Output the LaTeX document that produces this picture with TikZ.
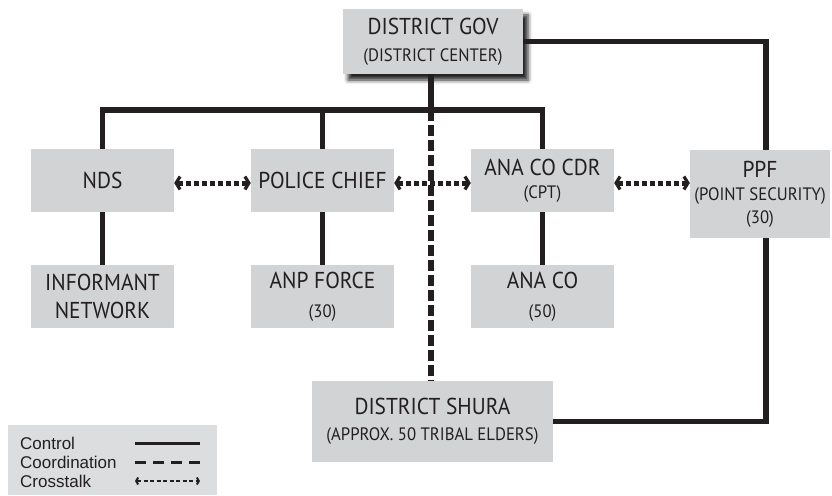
\documentclass[tikz,border=0pt]{standalone}
\usepackage{fontspec}
\newfontfamily\lab[FakeStretch=0.93]{PT Sans}
\newfontfamily\leg{Liberation Sans}
\usetikzlibrary{arrows.meta,shadows.blur}
\definecolor{boxfill}{HTML}{D1D3D4}
\definecolor{legfill}{HTML}{DCDDDE}
\definecolor{ink}{HTML}{231F20}
\newcommand{\subt}{\fontsize{18}{20}\selectfont}
\tikzset{
  box/.style={fill=boxfill, inner sep=0pt, text=ink, align=center,
    font=\lab\fontsize{23}{24}\selectfont},
  ctrl/.style={draw=ink, line width=5.5pt},
  coord/.style={draw=ink, line width=5.5pt, dash pattern=on 10.5pt off 4.5pt},
  cross/.style={draw=ink, line width=5pt, dash pattern=on 5pt off 3pt,
    >={Straight Barb[length=4pt,width=13pt,line width=3.2pt]}, <->},
  legtext/.style={anchor=west, inner sep=0pt, text=ink, font=\leg\fontsize{17}{19}\selectfont},
}
\begin{document}
\begin{tikzpicture}[x=1pt,y=-1pt]
\useasboundingbox (0,0) rectangle (832,495);
% boxes
\node[box, minimum width=180, minimum height=65,
  blur shadow={shadow xshift=5pt, shadow yshift=-6pt, shadow blur radius=4pt, shadow opacity=85}]
  (gov) at (433,41.5) {DISTRICT GOV\\[3pt]{\subt (DISTRICT CENTER)}};
\node[box, minimum width=143, minimum height=63] (nds) at (102.5,180.5) {NDS};
\node[box, minimum width=143, minimum height=63] (police) at (322.5,180.5) {POLICE CHIEF};
\node[box, minimum width=143, minimum height=63] (anacdr) at (542.5,180.5) {ANA CO CDR\\[-1pt]{\subt (CPT)}};
\node[box, minimum width=140, minimum height=88] (ppf) at (760,194) {PPF\\[-1pt]{\subt (POINT SECURITY)}\\[-1pt]{\subt (30)}};
\node[box, minimum width=143, minimum height=63] (inf) at (102.5,296.5) {INFORMANT\\[4pt]NETWORK};
\node[box, minimum width=143, minimum height=63] (anp) at (322.5,296.5) {ANP FORCE\\[5pt]{\subt (30)}};
\node[box, minimum width=143, minimum height=63] (anaco) at (542.5,296.5) {ANA CO\\[5pt]{\subt (50)}};
\node[box, minimum width=241, minimum height=81] (shura) at (432.5,421.5) {DISTRICT SHURA\\[2pt]{\subt (APPROX. 50 TRIBAL ELDERS)}};
% junctions
\coordinate (j) at (431,110);
\coordinate (pk) at (766,0);
% coordination
\draw[coord] (j) -- (shura.north -| j);
% control
\draw[ctrl] (gov.south -| j) -- (j);
\draw[ctrl] (nds.north) -- (nds.north |- j) -- (anacdr.north |- j) -- (anacdr.north);
\draw[ctrl] (police.north |- j) -- (police.north);
\draw[ctrl] (nds.south) -- (inf.north);
\draw[ctrl] (police.south) -- (anp.north);
\draw[ctrl] (anacdr.south) -- (anaco.north);
\draw[ctrl] (gov.east) -| (ppf.north -| pk);
\draw[ctrl] (ppf.south -| pk) |- (shura.east);
% crosstalk
\draw[cross] ([yshift=-2.5pt]nds.east) -- ([yshift=-2.5pt]police.west);
\draw[cross] ([yshift=-2.5pt]police.east) -- ([yshift=-2.5pt]anacdr.west);
\draw[cross] ([yshift=-2.5pt]anacdr.east) -- ([yshift=-2.5pt]ppf.west |- anacdr.east);
% legend
\node[fill=legfill, minimum width=209, minimum height=70, inner sep=0pt] (legend) at (112.5,460) {};
\node[legtext] (lc) at (20,443) {Control};
\node[legtext] (lo) at (20,462) {Coordination};
\node[legtext] (lx) at (20,481) {Crosstalk};
\coordinate (c1) at (135,443); \coordinate (c2) at (200,443);
\coordinate (o1) at (135,462); \coordinate (o2) at (200,462);
\coordinate (x1) at (135,481); \coordinate (x2) at (200,481);
\draw[draw=ink, line width=3pt] (c1) -- (c2);
\draw[draw=ink, line width=3pt, dash pattern=on 11pt off 7pt] (o1) -- (o2);
\draw[draw=ink, line width=2.2pt, dash pattern=on 4pt off 2.5pt,
  >={Straight Barb[length=2pt,width=7pt,line width=2pt]}, <->] (x1) -- (x2);
\end{tikzpicture}
\end{document}
